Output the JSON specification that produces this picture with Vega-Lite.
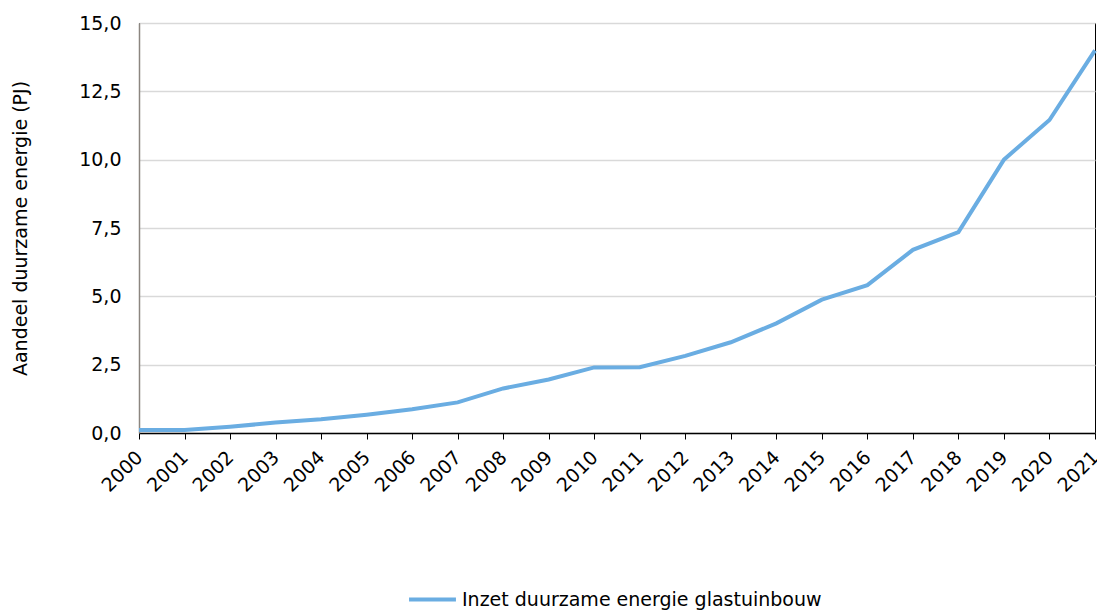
{
  "$schema": "https://vega.github.io/schema/vega-lite/v6.json",
  "autosize": {"type": "none"},
  "width": 956,
  "height": 410,
  "padding": {"left": 139, "top": 23, "right": 2, "bottom": 177},
  "background": "white",
  "config": {
    "font": "DejaVu Sans",
    "view": {"stroke": "#000000", "strokeWidth": 1}
  },
  "data": {
    "values": [
      {"jaar": 2000, "waarde": 0.11, "reeks": "Inzet duurzame energie glastuinbouw"},
      {"jaar": 2001, "waarde": 0.11, "reeks": "Inzet duurzame energie glastuinbouw"},
      {"jaar": 2002, "waarde": 0.23, "reeks": "Inzet duurzame energie glastuinbouw"},
      {"jaar": 2003, "waarde": 0.38, "reeks": "Inzet duurzame energie glastuinbouw"},
      {"jaar": 2004, "waarde": 0.5, "reeks": "Inzet duurzame energie glastuinbouw"},
      {"jaar": 2005, "waarde": 0.67, "reeks": "Inzet duurzame energie glastuinbouw"},
      {"jaar": 2006, "waarde": 0.87, "reeks": "Inzet duurzame energie glastuinbouw"},
      {"jaar": 2007, "waarde": 1.12, "reeks": "Inzet duurzame energie glastuinbouw"},
      {"jaar": 2008, "waarde": 1.63, "reeks": "Inzet duurzame energie glastuinbouw"},
      {"jaar": 2009, "waarde": 1.96, "reeks": "Inzet duurzame energie glastuinbouw"},
      {"jaar": 2010, "waarde": 2.4, "reeks": "Inzet duurzame energie glastuinbouw"},
      {"jaar": 2011, "waarde": 2.41, "reeks": "Inzet duurzame energie glastuinbouw"},
      {"jaar": 2012, "waarde": 2.82, "reeks": "Inzet duurzame energie glastuinbouw"},
      {"jaar": 2013, "waarde": 3.32, "reeks": "Inzet duurzame energie glastuinbouw"},
      {"jaar": 2014, "waarde": 4.01, "reeks": "Inzet duurzame energie glastuinbouw"},
      {"jaar": 2015, "waarde": 4.88, "reeks": "Inzet duurzame energie glastuinbouw"},
      {"jaar": 2016, "waarde": 5.41, "reeks": "Inzet duurzame energie glastuinbouw"},
      {"jaar": 2017, "waarde": 6.7, "reeks": "Inzet duurzame energie glastuinbouw"},
      {"jaar": 2018, "waarde": 7.35, "reeks": "Inzet duurzame energie glastuinbouw"},
      {"jaar": 2019, "waarde": 10.0, "reeks": "Inzet duurzame energie glastuinbouw"},
      {"jaar": 2020, "waarde": 11.45, "reeks": "Inzet duurzame energie glastuinbouw"},
      {"jaar": 2021, "waarde": 14.0, "reeks": "Inzet duurzame energie glastuinbouw"}
    ]
  },
  "mark": {"type": "line", "strokeWidth": 4, "strokeJoin": "miter", "clip": false},
  "encoding": {
    "x": {
      "field": "jaar",
      "type": "quantitative",
      "scale": {"domain": [2000, 2021], "nice": false, "zero": false},
      "axis": {
        "title": null,
        "values": [2000,2001,2002,2003,2004,2005,2006,2007,2008,2009,2010,2011,2012,2013,2014,2015,2016,2017,2018,2019,2020,2021],
        "format": "d",
        "grid": false,
        "labelAngle": -45,
        "labelAlign": "right",
        "labelBaseline": "middle",
        "labelFontSize": 19,
        "labelColor": "#000000",
        "labelPadding": 15,
        "labelOverlap": false,
        "labelBound": false,
        "labelFlush": false,
        "domainColor": "#000000",
        "domainWidth": 1.5,
        "tickColor": "#000000",
        "tickSize": 6,
        "tickWidth": 1
      }
    },
    "y": {
      "field": "waarde",
      "type": "quantitative",
      "scale": {"domain": [0, 15], "nice": false},
      "axis": {
        "title": "Aandeel duurzame energie (PJ)",
        "titleFontSize": 19,
        "titleFontWeight": "normal",
        "titleColor": "#000000",
        "titlePadding": 48,
        "values": [0, 2.5, 5, 7.5, 10, 12.5, 15],
        "labelExpr": "replace(format(datum.value, '.1f'), '.', ',')",
        "labelFontSize": 19,
        "labelColor": "#000000",
        "labelPadding": 18,
        "ticks": false,
        "gridColor": "#d9d9d9",
        "gridWidth": 1.5,
        "domainColor": "#8c8680",
        "domainWidth": 1.5
      }
    },
    "color": {
      "field": "reeks",
      "type": "nominal",
      "scale": {"range": ["#6aade2"]},
      "legend": {
        "title": null,
        "orient": "none",
        "legendX": 268,
        "legendY": 551,
        "symbolType": "stroke",
        "symbolSize": 2200,
        "symbolStrokeWidth": 4,
        "labelFontSize": 19,
        "labelColor": "#000000",
        "labelOffset": 4,
        "labelLimit": 600
      }
    }
  }
}
